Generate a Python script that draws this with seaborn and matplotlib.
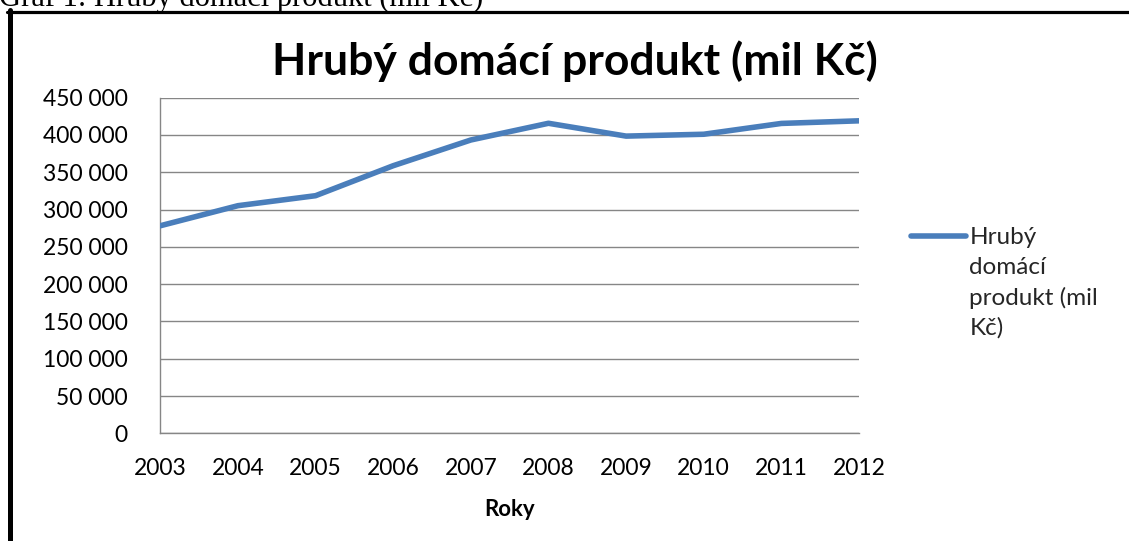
import pandas as pd
import matplotlib.pyplot as plt
import matplotlib.ticker as mticker
from matplotlib.lines import Line2D
import seaborn as sns

# data (mil Kč)
years = [2003, 2004, 2005, 2006, 2007, 2008, 2009, 2010, 2011, 2012]
hdp = [278300, 305200, 318600, 358800, 393300, 415700, 398500, 401000, 415500, 419000]
y_ticks = [0, 50000, 100000, 150000, 200000, 250000, 300000, 350000, 400000, 450000]
legend_lines = ["Hrubý", "domácí", "produkt (mil", "Kč)"]
chart_title = "Hrubý domácí produkt (mil Kč)"
caption = "Graf 1: Hrubý domácí produkt (mil Kč)"
x_label = "Roky"

sns.set_theme(style="white")
plt.rcParams['font.family'] = ['Lato', 'DejaVu Sans']

W, H = 1129, 541
GRID = "#868686"
BLUE = "#4A7EBB"

fig = plt.figure(figsize=(W / 100, H / 100), dpi=100)
fig.patch.set_facecolor("white")

# plot area in pixel terms
left, right, top, bottom = 160.3, 859.0, 97.7, 433.3
ax = fig.add_axes([left / W, 1 - bottom / H, (right - left) / W, (bottom - top) / H])

df = pd.DataFrame({"Rok": years, "HDP": hdp})
sns.lineplot(data=df, x="Rok", y="HDP", ax=ax, color=BLUE, linewidth=4,
             solid_capstyle="round", label=legend_lines[0], zorder=3)

ax.set_xlim(years[0], years[-1])
ax.set_ylim(y_ticks[0], y_ticks[-1])
ax.set_xticks(years)
ax.set_yticks(y_ticks)
ax.yaxis.set_major_formatter(mticker.FuncFormatter(lambda v, p: f"{v:,.0f}".replace(",", " ")))

ax.yaxis.grid(True, color=GRID, linewidth=1)
ax.xaxis.grid(False)
for s in ["top", "right"]:
    ax.spines[s].set_visible(False)
for s in ["left", "bottom"]:
    ax.spines[s].set_color(GRID)
    ax.spines[s].set_linewidth(1)

ax.tick_params(axis="y", direction="out", length=6.5, width=1, color=GRID,
               labelsize=16.5, pad=17, labelcolor="black")
ax.tick_params(axis="x", direction="out", length=6, width=1, color=GRID,
               labelsize=16.5, pad=12, labelcolor="black")
ax.set_ylabel("")
ax.set_xlabel(x_label, fontsize=16, fontweight="bold", labelpad=14, color="black")

# legend: wrapped label as separate rows, handle next to first row
handles = [ax.get_lines()[0]] + [Line2D([], [], color="none") for _ in legend_lines[1:]]
ax.legend(handles, legend_lines, loc="upper left",
          bbox_to_anchor=(911 / W, 1 - 227 / H), bbox_transform=fig.transFigure,
          frameon=False, fontsize=17.5, handlelength=2.25, handletextpad=0.15,
          labelspacing=0.36, borderpad=0, borderaxespad=0)

# chart title, centred on the chart area
fig.text(575 / W, 1 - 75 / H, chart_title, ha="center", va="baseline",
         fontsize=32, fontweight="bold", color="black")

# caption above the chart frame (cut off at the top edge)
fig.text(-1 / W, 1 - 6 / H, caption, ha="left", va="baseline",
         fontsize=22, family=["Liberation Serif", "DejaVu Serif"], color="black")

# chart frame: thick top and left edges
fig.add_artist(Line2D([7 / W, 1], [1 - 11.5 / H, 1 - 11.5 / H], color="black",
                      linewidth=2.3, transform=fig.transFigure))
fig.add_artist(Line2D([9.8 / W, 9.8 / W], [1 - 10 / H, 0], color="black",
                      linewidth=3.6, transform=fig.transFigure))

fig.savefig("out.png", dpi=100)
